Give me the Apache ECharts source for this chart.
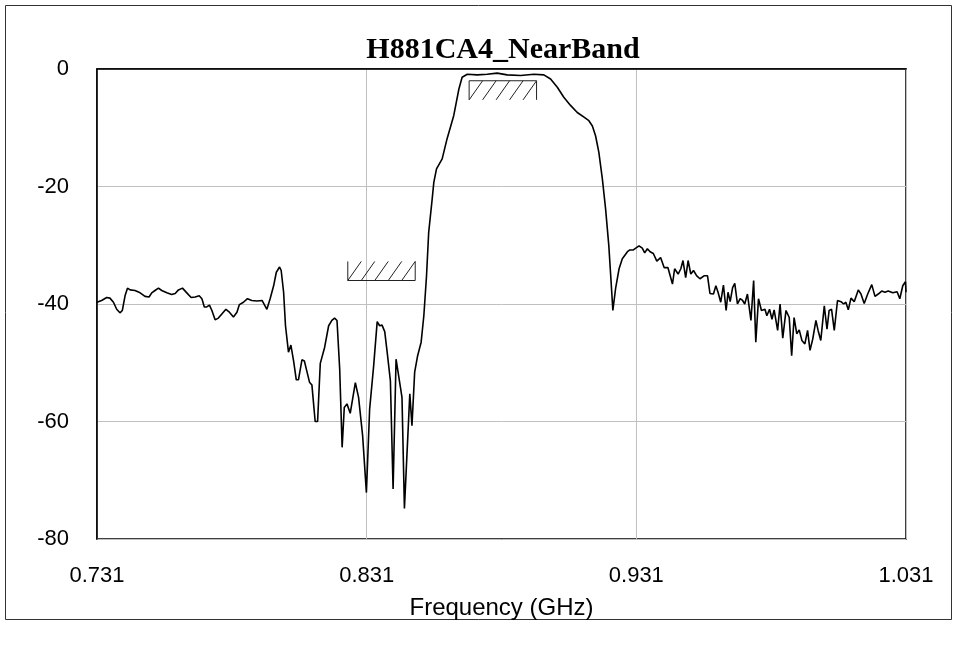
<!DOCTYPE html>
<html>
<head>
<meta charset="utf-8">
<script src="https://cdn.jsdelivr.net/npm/echarts@6/dist/echarts.min.js"></script>
<style>
html, body { margin: 0; padding: 0; background: #fff; }
#container { width: 958px; height: 645px; }
</style>
</head>
<body>
<div id="container"></div>
<script>
// sweep points (GHz) and measured response (dB)
var freqGHz = [
  0.7310,0.7327,0.7346,0.7358,0.7371,0.7383,0.7395,0.7404,0.7414,0.7423,
  0.7433,0.7451,0.7470,0.7488,0.7503,0.7513,0.7525,0.7538,0.7550,0.7569,
  0.7587,0.7600,0.7612,0.7627,0.7643,0.7659,0.7674,0.7689,0.7699,0.7708,
  0.7717,0.7727,0.7736,0.7748,0.7760,0.7773,0.7788,0.7801,0.7816,0.7829,
  0.7838,0.7853,0.7868,0.7884,0.7903,0.7922,0.7940,0.7952,0.7965,0.7975,
  0.7987,0.7993,0.8002,0.8009,0.8020,0.8029,0.8039,0.8049,0.8057,0.8070,
  0.8079,0.8089,0.8098,0.8107,0.8119,0.8128,0.8138,0.8154,0.8169,0.8181,
  0.8191,0.8200,0.8210,0.8219,0.8227,0.8237,0.8249,0.8268,0.8280,0.8295,
  0.8309,0.8321,0.8336,0.8349,0.8358,0.8367,0.8377,0.8386,0.8398,0.8408,
  0.8419,0.8441,0.8450,0.8470,0.8478,0.8488,0.8499,0.8512,0.8522,0.8532,
  0.8540,0.8553,0.8559,0.8569,0.8590,0.8608,0.8633,0.8652,0.8664,0.8683,
  0.8720,0.8757,0.8794,0.8831,0.8881,0.8930,0.8967,0.8992,0.9017,0.9041,
  0.9066,0.9091,0.9116,0.9134,0.9147,0.9159,0.9171,0.9184,0.9196,0.9208,
  0.9215,0.9223,0.9233,0.9246,0.9258,0.9277,0.9286,0.9299,0.9308,0.9320,
  0.9332,0.9341,0.9351,0.9361,0.9373,0.9386,0.9400,0.9413,0.9427,0.9434,
  0.9444,0.9452,0.9465,0.9475,0.9483,0.9493,0.9502,0.9512,0.9522,0.9534,
  0.9546,0.9561,0.9574,0.9583,0.9596,0.9605,0.9613,0.9623,0.9633,0.9643,
  0.9650,0.9658,0.9667,0.9675,0.9685,0.9695,0.9704,0.9712,0.9722,0.9735,
  0.9745,0.9753,0.9763,0.9774,0.9787,0.9794,0.9804,0.9813,0.9821,0.9834,
  0.9843,0.9853,0.9865,0.9877,0.9886,0.9895,0.9905,0.9914,0.9924,0.9935,
  0.9945,0.9954,0.9964,0.9976,0.9984,0.9994,1.0007,1.0017,1.0025,1.0034,
  1.0044,1.0056,1.0069,1.0079,1.0087,1.0096,1.0106,1.0118,1.0133,1.0143,
  1.0155,1.0168,1.0183,1.0195,1.0207,1.0220,1.0232,1.0244,1.0261,1.0277,
  1.0287,1.0298,1.0308,1.0310
];
var responseDb = [
  -39.7,-39.4,-38.9,-39.0,-39.7,-40.9,-41.5,-41.1,-38.6,-37.3,
  -37.6,-37.7,-38.1,-38.7,-38.8,-38.1,-37.7,-37.3,-37.7,-38.1,
  -38.4,-38.2,-37.6,-37.3,-38.1,-38.9,-38.8,-38.6,-39.1,-40.5,
  -40.5,-40.2,-41.1,-42.7,-42.4,-41.7,-40.9,-41.4,-42.2,-41.4,
  -40.1,-39.7,-39.1,-39.4,-39.5,-39.4,-40.9,-39.1,-36.9,-34.6,
  -33.7,-34.3,-38.0,-43.7,-48.2,-47.0,-49.7,-52.9,-52.9,-49.5,
  -49.7,-51.6,-53.3,-53.8,-60.0,-60.0,-50.1,-47.4,-43.7,-42.8,
  -42.4,-42.8,-51.1,-64.4,-57.6,-57.0,-58.6,-53.4,-55.9,-62.4,
  -72.1,-57.9,-50.5,-43.0,-43.7,-43.6,-44.7,-48.2,-53.1,-71.5,
  -49.4,-55.9,-74.8,-55.3,-60.7,-51.6,-48.8,-46.5,-42.0,-35.2,
  -27.8,-22.1,-19.3,-17.0,-15.3,-11.9,-7.9,-3.4,-1.4,-0.9,
  -1.0,-0.9,-0.7,-1.0,-1.1,-0.9,-1.0,-1.7,-3.1,-4.8,
  -6.2,-7.4,-8.2,-8.8,-9.7,-11.4,-14.2,-18.7,-23.8,-30.1,
  -35.2,-41.1,-37.4,-34.0,-32.3,-31.1,-30.8,-30.8,-30.5,-30.1,
  -30.5,-31.3,-30.6,-31.1,-31.4,-32.7,-32.1,-33.8,-33.8,-34.0,
  -36.6,-34.0,-34.9,-34.0,-32.6,-35.5,-32.6,-34.9,-34.3,-35.2,
  -35.7,-35.2,-35.2,-38.2,-38.3,-36.9,-38.0,-39.7,-36.8,-41.1,
  -38.0,-39.6,-37.2,-36.5,-40.0,-39.1,-39.4,-40.0,-38.3,-42.8,
  -36.0,-46.5,-39.1,-41.1,-40.9,-42.0,-40.9,-42.6,-41.0,-44.5,
  -40.0,-45.8,-41.1,-42.3,-48.8,-42.3,-45.1,-44.4,-46.2,-46.8,
  -44.5,-47.9,-46.0,-42.8,-44.5,-46.2,-40.3,-44.3,-41.1,-40.9,
  -44.5,-39.4,-39.6,-40.0,-39.7,-41.0,-39.0,-39.6,-37.6,-38.3,
  -39.9,-38.3,-36.7,-38.7,-38.3,-37.8,-38.0,-37.8,-38.1,-37.9,
  -39.1,-36.9,-36.2,-38.0
];

// spec masks: limit line plus hatched side
var maskStart = [0.824, 0.869];
var maskEnd = [0.849, 0.894];
var maskLimit = [-36, -2];
var maskHatchTo = [-32.75, -5.25];

// axis ticks
var freqTicks = ['0.731', '0.831', '0.931', '1.031'];
var F0 = 0.731;          // start of sweep, x axis counts from here
var SPAN = 0.3;

var dom = document.getElementById("container");
var myChart = echarts.init(dom, null, {renderer: 'canvas'});

var lineData = freqGHz.map(function (f, i) { return [f - F0, responseDb[i]]; });
var maskData = maskStart.map(function (s, i) {
    return [s - F0, maskEnd[i] - F0, maskLimit[i], maskHatchTo[i]];
});

function renderMask(params, api) {
    var pL = api.coord([api.value(0), api.value(2)]);
    var pR = api.coord([api.value(1), api.value(2)]);
    var yH = api.coord([api.value(0), api.value(3)])[1];
    var yL = pL[1];
    var left = pL[0], right = pR[0];
    var top = Math.min(yL, yH), bottom = Math.max(yL, yH);
    var children = [{
        type: 'polyline',
        shape: {points: [[left, yH], [left, yL], [right, yL], [right, yH]]},
        style: {stroke: '#222', lineWidth: 1, fill: null}
    }];
    var n = Math.max(1, Math.round((right - left) / 13.5));
    var step = (right - left) / n;
    for (var k = 0; k < n; k++) {
        children.push({
            type: 'line',
            shape: {x1: left + k * step, y1: bottom, x2: left + (k + 1) * step, y2: top},
            style: {stroke: '#222', lineWidth: 1}
        });
    }
    return {type: 'group', children: children};
}

var font = '"Liberation Sans", Arial, sans-serif';

option = {
    animation: false,
    backgroundColor: '#fff',
    title: {
        text: 'H881CA4_NearBand',
        left: 498,
        top: 30,
        textAlign: 'center',
        textStyle: {
            fontFamily: '"Liberation Serif", "Times New Roman", serif',
            fontWeight: 'bold',
            fontSize: 30,
            color: '#000'
        }
    },
    graphic: [{
        type: 'rect',
        shape: {x: 5.5, y: 5.5, width: 946, height: 614},
        style: {fill: null, stroke: '#333', lineWidth: 1},
        silent: true
    }],
    grid: {
        left: 97,
        right: 52,
        top: 69,
        bottom: 106,
        show: true,
        borderColor: '#000',
        borderWidth: 1.5
    },
    xAxis: {
        type: 'value',
        min: 0,
        max: SPAN,
        interval: 0.1,
        name: 'Frequency (GHz)',
        nameLocation: 'middle',
        nameGap: 57,
        nameTextStyle: {fontFamily: font, fontSize: 24, color: '#000'},
        axisLine: {show: true, lineStyle: {color: '#000', width: 1.5}},
        axisTick: {show: false},
        axisLabel: {
            margin: 26,
            fontFamily: font,
            fontSize: 22,
            color: '#000',
            formatter: function (v) {
                return freqTicks[Math.round(v / 0.1)];
            }
        },
        splitLine: {show: true, lineStyle: {color: '#c0c0c0', width: 1}}
    },
    yAxis: {
        type: 'value',
        min: -80,
        max: 0,
        interval: 20,
        axisLine: {show: true, lineStyle: {color: '#000', width: 1.5}},
        axisTick: {show: false},
        axisLabel: {margin: 28, fontFamily: font, fontSize: 22, color: '#000'},
        splitLine: {show: true, lineStyle: {color: '#c0c0c0', width: 1}}
    },
    series: [
        {
            type: 'custom',
            renderItem: renderMask,
            data: maskData,
            silent: true,
            z: 3
        },
        {
            type: 'line',
            data: lineData,
            showSymbol: false,
            symbol: 'none',
            lineStyle: {color: '#000', width: 1.6},
            z: 4
        }
    ]
};

if (option && typeof option === "object") {
    myChart.setOption(option, true);
}
</script>
</body>
</html>
